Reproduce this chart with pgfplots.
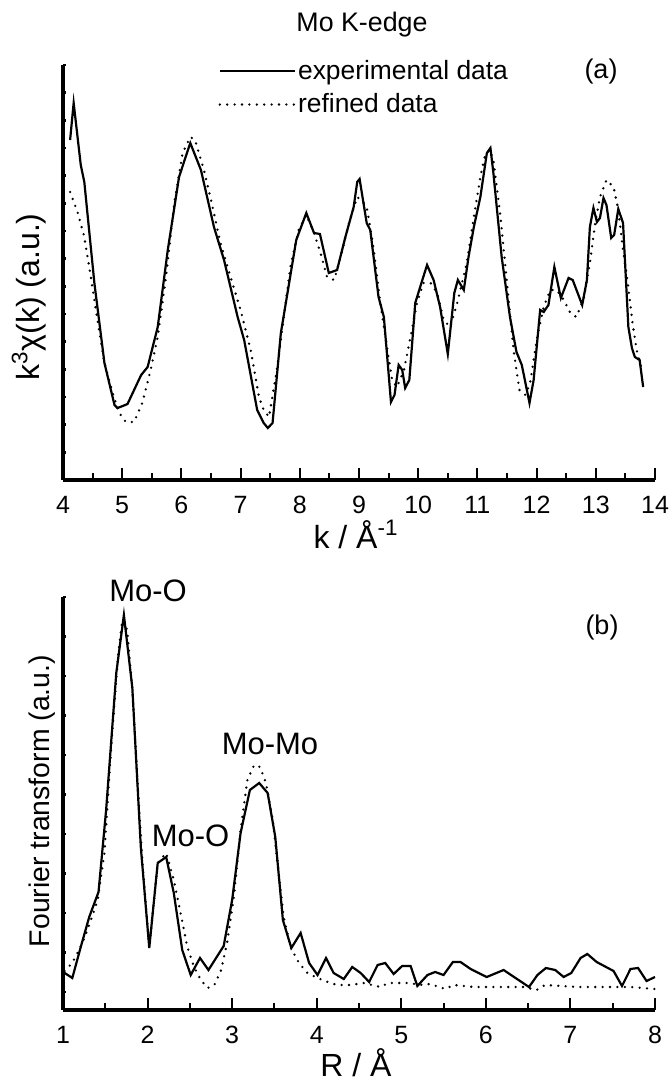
\documentclass[border=0pt]{standalone}
\usepackage{fontspec}
\setmainfont{Liberation Sans}
\usepackage{pgfplots}
\usepackage{pgfplotstable}
\pgfplotsset{compat=1.18}

\pgfplotstableread{
k v
4.12 350
4.18 387
4.30 325
4.36 308
4.53 207
4.70 127
4.87 85
4.92 82
5.01 84
5.09 86
5.32 115
5.43 123
5.60 163
5.77 240
5.96 313
6.15 347
6.33 320
6.55 263
6.72 230
6.95 173
7.06 150
7.28 80
7.39 67
7.46 62
7.54 67
7.68 157
7.82 207
7.94 250
8.11 277
8.24 257
8.34 256
8.49 217
8.63 220
8.77 253
8.91 283
8.97 308
9.01 311
9.13 267
9.19 260
9.33 193
9.42 173
9.54 88
9.60 95
9.67 125
9.73 120
9.78 102
9.85 110
9.95 187
10.07 210
10.15 225
10.26 210
10.37 183
10.50 136
10.61 197
10.67 210
10.77 200
10.85 233
10.94 263
11.05 293
11.16 337
11.22 342
11.27 317
11.41 233
11.55 173
11.66 138
11.75 125
11.88 87
11.95 110
12.06 180
12.12 178
12.20 185
12.30 223
12.41 192
12.54 212
12.61 210
12.77 185
12.85 210
12.90 263
12.96 282
13.02 268
13.07 272
13.13 292
13.18 285
13.26 252
13.31 255
13.38 281
13.46 267
13.55 163
13.61 142
13.66 133
13.74 130
13.80 103
}\kexp

\pgfplotstableread{
k v
4.12 298
4.25 277
4.36 253
4.47 213
4.59 167
4.70 127
4.84 97
4.95 77
5.06 68
5.20 68
5.34 87
5.48 120
5.60 153
5.74 213
5.88 287
6.02 337
6.15 353
6.23 350
6.38 320
6.50 290
6.66 247
6.83 213
7.00 180
7.17 140
7.31 93
7.39 80
7.48 73
7.62 123
7.73 173
7.84 223
7.98 260
8.11 275
8.24 257
8.35 237
8.46 213
8.58 210
8.69 233
8.83 267
8.97 293
9.08 287
9.14 280
9.25 240
9.36 187
9.48 140
9.56 110
9.64 103
9.76 120
9.87 153
9.98 187
10.09 207
10.21 207
10.32 197
10.43 170
10.54 163
10.66 187
10.74 207
10.82 227
10.94 273
11.05 313
11.13 335
11.21 340
11.27 330
11.39 273
11.50 207
11.61 140
11.71 100
11.81 95
11.89 107
12.01 153
12.12 183
12.23 200
12.34 200
12.46 190
12.57 177
12.67 173
12.79 190
12.90 227
12.99 267
13.07 293
13.18 310
13.30 303
13.38 280
13.46 240
13.54 207
13.62 167
13.69 140
13.78 120
}\kfit

\pgfplotstableread{
R v
1.02 48
1.11 43
1.21 74
1.31 104
1.42 129
1.51 211
1.63 348
1.72 406
1.82 333
1.92 174
2.02 73
2.12 158
2.22 164
2.31 128
2.41 71
2.51 46
2.62 63
2.72 51
2.81 63
2.90 75
3.00 121
3.10 188
3.21 231
3.32 238
3.42 228
3.51 184
3.60 101
3.70 73
3.81 88
3.91 58
4.01 46
4.11 63
4.20 48
4.32 42
4.42 54
4.52 48
4.62 39
4.72 56
4.81 58
4.91 47
5.01 55
5.11 55
5.19 35
5.31 46
5.40 49
5.50 46
5.61 59
5.70 59
5.82 52
6.01 44
6.21 51
6.51 34
6.61 46
6.71 53
6.82 51
6.92 44
7.01 48
7.12 63
7.20 67
7.31 59
7.51 50
7.61 35
7.71 52
7.80 53
7.90 40
8.00 44
}\rexp

\pgfplotstableread{
R v
1.02 50
1.11 58
1.23 78
1.33 101
1.41 121
1.49 168
1.57 274
1.65 364
1.70 401
1.76 391
1.82 331
1.88 241
1.94 158
2.02 73
2.12 158
2.22 168
2.31 141
2.39 108
2.47 74
2.55 54
2.63 41
2.71 33
2.79 36
2.87 51
2.94 78
3.02 124
3.10 191
3.18 241
3.26 256
3.33 254
3.40 238
3.48 201
3.55 148
3.61 104
3.69 74
3.79 58
3.89 48
4.01 43
4.13 39
4.24 36
4.40 36
4.56 38
4.75 34
4.85 38
5.11 38
5.21 36
5.34 37
5.52 32
5.62 36
5.86 34
6.13 34
6.45 34
6.60 31
6.70 36
7.08 34
7.47 34
7.71 34
8.00 32
}\rfit

\pgfplotsset{
  panel/.style={
    scale only axis,
    anchor=south west,
    width=296pt,
    axis lines=left,
    axis line style={-, line width=1.8pt},
    tick align=inside,
    major tick length=6pt,
    minor tick length=3.5pt,
    every tick/.style={black, line width=1pt},
    ytick style={/pgfplots/major tick length=1.6pt, line width=1.4pt},
    yticklabels={},
    minor x tick num=1,
    /pgf/number format/assume math mode=true,
    xticklabel style={font=\fontsize{12.5}{15}\selectfont, yshift=-4.5pt},
    label style={font=\fontsize{16}{19}\selectfont},
    clip=false,
  },
  expline/.style={black, line width=1.1pt},
  fitline/.style={black, line width=1.3pt, line cap=round, dash pattern=on 0pt off 3.7pt},
}

\begin{document}
\begin{tikzpicture}
\useasboundingbox (0pt,0pt) rectangle (336pt,540.5pt);

\begin{axis}[panel,
  at={(31.5pt,300.5pt)}, height=207.5pt,
  xmin=4, xmax=14, ymin=10, ymax=425,
  xtick={4,5,...,14},
  ytick={10,37.67,65.33,93,120.67,148.33,176,203.67,231.33,259,286.67,314.33,342,369.67,397.33,425},
  xlabel={k / Å\textsuperscript{-1}},
  xlabel style={at={(axis description cs:0.495,-0.164)}, anchor=base},
  ylabel={k\textsuperscript{3}χ(k) (a.u.)},
  ylabel style={at={(axis description cs:-0.039,0.441)}, anchor=base},
  legend style={draw=none, fill=none, at={(axis description cs:0.262,1.017)}, anchor=north west,
    font=\fontsize{13.2}{15}\selectfont, row sep=3.5pt, inner sep=0pt,
    nodes={inner sep=1pt}},
  legend cell align=left,
  legend image code/.code={\draw[#1] (0pt,0pt) -- (37.5pt,0pt);},
]
\addplot[expline] table[x=k,y=v] {\kexp};
\addlegendentry{experimental data}
\addplot[fitline] table[x=k,y=v] {\kfit};
\addlegendentry{refined data}
\end{axis}

\begin{axis}[panel,
  at={(31.5pt,35.5pt)}, height=206.5pt,
  xmin=1, xmax=8, ymin=11, ymax=424,
  xtick={1,2,...,8},
  ytick={29,68.5,108,147.5,187,226.5,266,305.5,345,384.5,424},
  xlabel={R / Å},
  xlabel style={at={(axis description cs:0.495,-0.162)}, anchor=base},
  ylabel={Fourier transform (a.u.)},
  ylabel style={at={(axis description cs:-0.022,0.506)}, anchor=base, font=\fontsize{14.2}{17}\selectfont},
]
\addplot[expline] table[x=R,y=v] {\rexp};
\addplot[fitline] table[x=R,y=v] {\rfit};
\end{axis}

\node[font=\fontsize{13.4}{16}\selectfont] at (181pt,528pt) {Mo K-edge};
\node[font=\fontsize{13.5}{16}\selectfont] at (300.5pt,504.5pt) {(a)};
\node[font=\fontsize{13.5}{16}\selectfont] at (301pt,226.75pt) {(b)};
\node[font=\fontsize{15.5}{18}\selectfont] at (74pt,245pt) {Mo-O};
\node[font=\fontsize{15.5}{18}\selectfont] at (95.25pt,122.5pt) {Mo-O};
\node[font=\fontsize{15.5}{18}\selectfont] at (135pt,168.5pt) {Mo-Mo};
\end{tikzpicture}
\end{document}
